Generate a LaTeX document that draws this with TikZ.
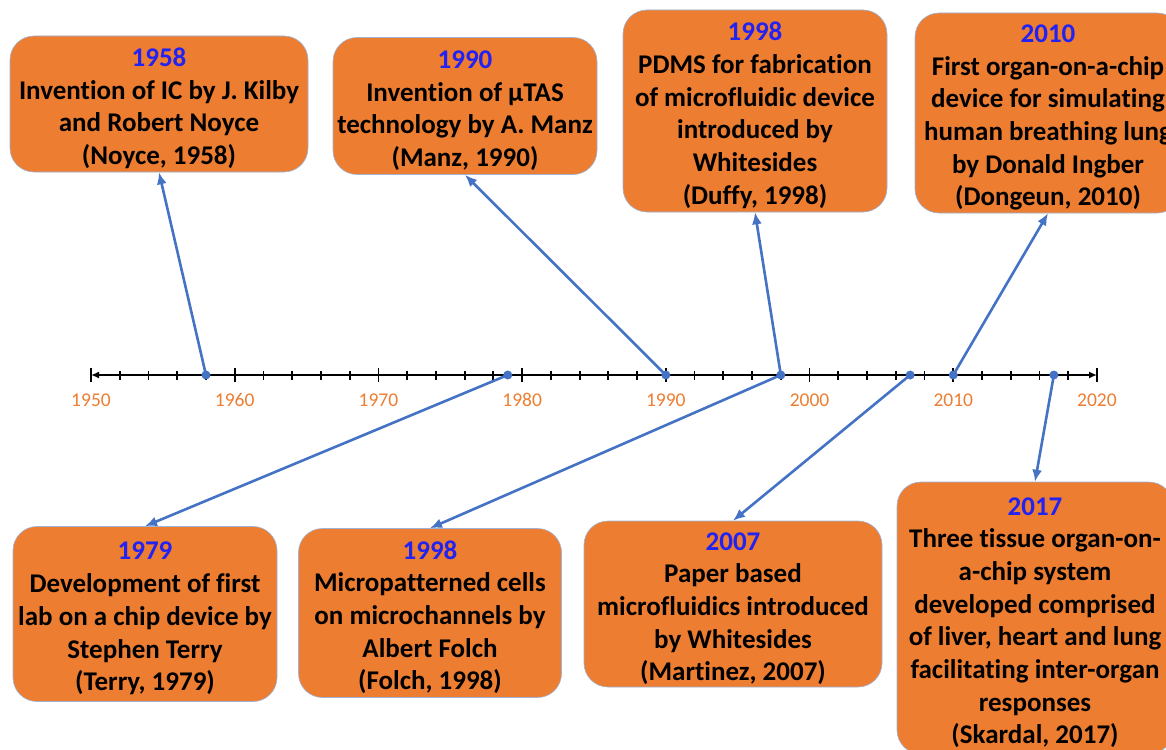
\documentclass[tikz,border=0pt]{standalone}
\usepackage{fontspec}
\setmainfont{Carlito}[Ligatures=NoCommon]
\usetikzlibrary{arrows.meta}

\definecolor{boxorange}{HTML}{ED7D31}
\definecolor{boxline}{HTML}{9DB3D8}
\definecolor{yearblue}{HTML}{2222F2}
\definecolor{linkblue}{HTML}{4472C4}

\tikzset{>={Latex[length=12pt,width=10pt]}}
\newcommand{\evyear}[1]{{\color{yearblue}\rule{0pt}{27pt}#1}}

\begin{document}
\begin{tikzpicture}[x=1pt,y=-1pt]
	\tikzstyle{event} = [draw=boxline, fill=boxorange, rounded corners=24pt, align=center, inner sep=0pt, line width=0.6pt, font=\fontsize{27}{32.7}\selectfont\bfseries]
	\tikzstyle{link} = [->, line width=2.6pt, draw=linkblue]
	\tikzstyle{axisline} = [line width=1.8pt, {Latex[length=8pt,width=7pt]}-{Latex[length=8pt,width=7pt]}]
	\tikzstyle{axistick} = [line width=1.8pt]
	\tikzstyle{yearlabel} = [text=boxorange, font=\fontsize{19.5}{21}\selectfont]

	\useasboundingbox (0,0) rectangle (1166,749);
	\clip (0,0) rectangle (1166,749);

%----------time axis 1950 -- 2020------------------------------
	\coordinate (start) at (91,375);
	\coordinate (end) at (1097,375);
	\draw[axisline] (start) -- (end);

	\foreach \x in {1950,1952,...,2020}
		\draw[axistick] ({91+(\x-1950)*14.371},370.5) -- ++(0,9);
	\foreach \x in {1950,1960,...,2020} {
		\draw[axistick] ({91+(\x-1950)*14.371},368) -- ++(0,14);
		\node[yearlabel] (lab\x) at ({91+(\x-1950)*14.371},400) {\x};
	}

	\coordinate (t1958) at (205.97,375);
	\coordinate (t1979) at (507.76,375);
	\coordinate (t1990) at (665.84,375);
	\coordinate (t1998) at (780.81,375);
	\coordinate (t2007) at (910.15,375);
	\coordinate (t2010) at (953.26,375);
	\coordinate (t2017) at (1053.86,375);

%----------events above the axis------------------------------
	\node[event, minimum width=298, minimum height=136] (e1958) at (159,104)
		{\evyear{1958}\\Invention of IC by J. Kilby\\and Robert Noyce\\(Noyce, 1958)};
	\node[event, minimum width=264, minimum height=137] (e1990) at (465,106)
		{\evyear{1990}\\Invention of µTAS\\technology by A. Manz\\(Manz, 1990)};
	\node[event, minimum width=264, minimum height=202] (e1998a) at (755,111)
		{\evyear{1998}\\PDMS for fabrication\\of microfluidic device\\introduced by\\Whitesides\\(Duffy, 1998)};
	\node[event, minimum width=266, minimum height=200] (e2010) at (1048,113)
		{\evyear{2010}\\First organ-on-a-chip\\device for simulating\\human breathing lung\\by Donald Ingber\\(Dongeun, 2010)};

%----------events below the axis------------------------------
	\node[event, minimum width=264, minimum height=175] (e1979) at (145,614)
		{\evyear{1979}\\Development of first\\lab on a chip device by\\Stephen Terry\\(Terry, 1979)};
	\node[event, minimum width=263, minimum height=169] (e1998b) at (430,613)
		{\evyear{1998}\\Micropatterned cells\\on microchannels by\\Albert Folch\\(Folch, 1998)};
	\node[event, minimum width=298, minimum height=166] (e2007) at (733,604)
		{\evyear{2007}\\Paper based\\microfluidics introduced\\by Whitesides\\(Martinez, 2007)};
	\node[event, minimum width=276, minimum height=272] (e2017) at (1035,618)
		{\evyear{2017}\\Three tissue organ-on-\\a-chip system\\developed comprised\\of liver, heart and lung\\facilitating inter-organ\\responses\\(Skardal, 2017)};

%----------links------------------------------
	\draw[link] (t1958) -- (e1958.south);
	\draw[link] (t1990) -- (e1990.south);
	\draw[link] (t1998) -- (e1998a.south);
	\draw[link] (t2010) -- (e2010.south);

	\draw[link] (t1979) -- (e1979.north);
	\draw[link] (t1998) -- (e1998b.north);
	\draw[link] (t2007) -- (e2007.north);
	\draw[link] (t2017) -- (e2017.north);

	\foreach \c in {t1958,t1979,t1990,t1998,t2007,t2010,t2017}
		\fill[linkblue] (\c) circle (4.5pt);

\end{tikzpicture}
\end{document}
